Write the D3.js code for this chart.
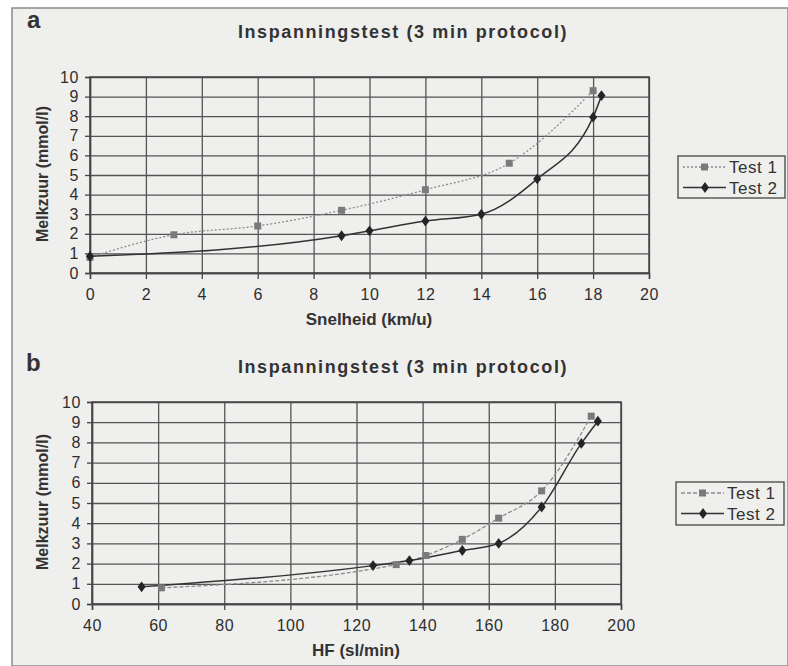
<!DOCTYPE html>
<html>
<head>
<meta charset="utf-8">
<script src="https://cdn.jsdelivr.net/npm/d3@7"></script>
<style>
  body { margin: 0; background: #ffffff; }
  svg { display: block; font-family: "Liberation Sans", Arial, sans-serif; }
</style>
</head>
<body>
<div id="chart"></div>
<script>
const width = 788;
const height = 666;

// lactate (mmol/l) per test
const seriesNames = ['Test 1', 'Test 2'];
const lactate1 = [0.8, 1.95, 2.4, 3.2, 4.25, 5.6, 9.3];
const lactate2 = [0.85, 1.9, 2.15, 2.65, 3.0, 4.8, 7.95, 9.05];

// panel a: speed (km/u)
const speed1 = [0, 3, 6, 9, 12, 15, 18];
const speed2 = [0, 9, 10, 12, 14, 16, 18, 18.3];
const speedTicks = [0, 2, 4, 6, 8, 10, 12, 14, 16, 18, 20];

// panel b: heart rate (sl/min)
const hf1 = [61, 132, 141, 152, 163, 176, 191];
const hf2 = [55, 125, 136, 152, 163, 176, 188, 193];
const hfTicks = [40, 60, 80, 100, 120, 140, 160, 180, 200];

const lactateTicks = [0, 1, 2, 3, 4, 5, 6, 7, 8, 9, 10];

const title = 'Inspanningstest (3 min protocol)';
const yTitle = 'Melkzuur (mmol/l)';

const svg = d3.select('#chart')
  .append('svg')
  .attr('width', width)
  .attr('height', height);

// scanned page background
svg.append('rect')
  .attr('x', 12).attr('y', 8)
  .attr('width', width - 12).attr('height', height - 8)
  .style('fill', '#efefed')
  .style('stroke', '#8a8a8a')
  .style('stroke-width', 1.5);

const zip = (xs, ys) => xs.map((x, i) => ({ x, y: ys[i] }));

const drawPanel = (opts) => {
  const x = d3.scaleLinear().domain(opts.xDomain).range(opts.xRange);
  const y = d3.scaleLinear().domain([0, 10]).range(opts.yRange);
  const g = svg.append('g');
  const [x0, x1] = opts.xRange;
  const [y0, y1] = opts.yRange;

  /* panel letter + title */
  g.append('text')
    .attr('x', opts.letterX).attr('y', opts.letterY)
    .style('font-size', '24px').style('font-weight', 'bold').style('fill', '#333')
    .text(opts.letter);

  g.append('text')
    .attr('x', 403).attr('y', opts.titleY)
    .attr('text-anchor', 'middle')
    .style('font-size', '18px').style('font-weight', 'bold')
    .style('letter-spacing', '1.6px').style('fill', '#333')
    .text(title);

  /* grid */
  g.append('g')
    .attr('transform', 'translate(0,' + y0 + ')')
    .call(d3.axisBottom(x).tickValues(opts.xTicks).tickSize(-(y0 - y1)).tickFormat(''))
    .call(s => s.select('.domain').remove())
    .selectAll('line').style('stroke', '#555').style('stroke-width', 1.3);

  g.append('g')
    .attr('transform', 'translate(' + x0 + ',0)')
    .call(d3.axisLeft(y).tickValues(lactateTicks).tickSize(-(x1 - x0)).tickFormat(''))
    .call(s => s.select('.domain').remove())
    .selectAll('line').style('stroke', '#555').style('stroke-width', 1.3);

  g.append('rect')
    .attr('x', x0).attr('y', y1)
    .attr('width', x1 - x0).attr('height', y0 - y1)
    .style('fill', 'none').style('stroke', '#444').style('stroke-width', 1.5);

  /* axes */
  const xAxis = g.append('g')
    .attr('transform', 'translate(0,' + y0 + ')')
    .call(d3.axisBottom(x).tickValues(opts.xTicks).tickSize(6).tickPadding(10));
  const yAxis = g.append('g')
    .attr('transform', 'translate(' + x0 + ',0)')
    .call(d3.axisLeft(y).tickValues(lactateTicks).tickSize(5).tickPadding(6));

  [xAxis, yAxis].forEach(a => {
    a.select('.domain').style('stroke', '#444').style('stroke-width', 1.5);
    a.selectAll('line').style('stroke', '#444').style('stroke-width', 1.3);
    a.selectAll('text')
      .style('font-family', '"Liberation Sans", Arial, sans-serif')
      .style('font-size', '16px').style('fill', '#2e2e2e')
      .style('letter-spacing', '0.6px');
  });

  g.append('text')
    .attr('x', opts.xTitleX).attr('y', opts.xTitleY)
    .attr('text-anchor', 'middle')
    .style('font-size', '17px').style('font-weight', 'bold').style('fill', '#333')
    .text(opts.xTitle);

  g.append('text')
    .attr('transform', 'translate(48,' + opts.yTitleY + ') rotate(-90)')
    .attr('text-anchor', 'middle')
    .style('font-size', '16px').style('font-weight', 'bold').style('fill', '#333')
    .text(yTitle);

  /* data */
  const line = d3.line()
    .x(d => x(d.x))
    .y(d => y(d.y))
    .curve(d3.curveMonotoneX);

  const d1 = zip(opts.x1, lactate1);
  const d2 = zip(opts.x2, lactate2);

  g.append('path')
    .datum(d1)
    .attr('d', line)
    .style('fill', 'none').style('stroke', '#8c8c8c')
    .style('stroke-width', 1.3).style('stroke-dasharray', opts.dash);

  g.append('path')
    .datum(d2)
    .attr('d', line)
    .style('fill', 'none').style('stroke', '#333')
    .style('stroke-width', 1.5);

  g.selectAll('.sq')
    .data(d1)
    .enter()
    .append('rect')
    .attr('x', d => x(d.x) - 3.5)
    .attr('y', d => y(d.y) - 3.5)
    .attr('width', 7).attr('height', 7)
    .style('fill', '#7a7a7a');

  g.selectAll('.dia')
    .data(d2)
    .enter()
    .append('path')
    .attr('d', d3.symbol(d3.symbolDiamond, 42))
    .attr('transform', d => 'translate(' + x(d.x) + ',' + y(d.y) + ') scale(1.15,0.9)')
    .style('fill', '#252525');

  /* legend */
  const lg = g.append('g');
  const [lx, ly, lw, lh] = opts.legend;
  lg.append('rect')
    .attr('x', lx).attr('y', ly).attr('width', lw).attr('height', lh)
    .style('fill', 'none').style('stroke', '#444').style('stroke-width', 1.3);

  seriesNames.forEach((name, i) => {
    const cy = ly + 11 + i * 20.5;
    lg.append('line')
      .attr('x1', lx + 5).attr('x2', lx + 48)
      .attr('y1', cy).attr('y2', cy)
      .style('stroke', i === 0 ? '#8c8c8c' : '#333')
      .style('stroke-width', i === 0 ? 1.3 : 1.5)
      .style('stroke-dasharray', i === 0 ? opts.dash : null);
    if (i === 0) {
      lg.append('rect')
        .attr('x', lx + 23).attr('y', cy - 3.5)
        .attr('width', 7).attr('height', 7)
        .style('fill', '#7a7a7a');
    } else {
      lg.append('path')
        .attr('d', d3.symbol(d3.symbolDiamond, 42))
        .attr('transform', 'translate(' + (lx + 27) + ',' + cy + ') scale(1.15,0.9)')
        .style('fill', '#252525');
    }
    lg.append('text')
      .attr('x', lx + 51).attr('y', cy + 6)
      .style('font-size', '17px').style('fill', '#333')
      .style('letter-spacing', '0.5px')
      .text(name);
  });
};

drawPanel({
  letter: 'a', letterX: 27, letterY: 28, titleY: 38,
  xDomain: [0, 20], xRange: [90, 649], yRange: [273, 77],
  xTicks: speedTicks, x1: speed1, x2: speed2,
  xTitle: 'Snelheid (km/u)', xTitleX: 369, xTitleY: 325, yTitleY: 174,
  dash: '2,2',
  legend: [678, 156, 107, 42]
});

drawPanel({
  letter: 'b', letterX: 26, letterY: 371, titleY: 373,
  xDomain: [40, 200], xRange: [92, 621], yRange: [604, 402],
  xTicks: hfTicks, x1: hf1, x2: hf2,
  xTitle: 'HF (sl/min)', xTitleX: 356, xTitleY: 656, yTitleY: 502,
  dash: '4,2',
  legend: [676, 482, 108, 43]
});
</script>
</body>
</html>
